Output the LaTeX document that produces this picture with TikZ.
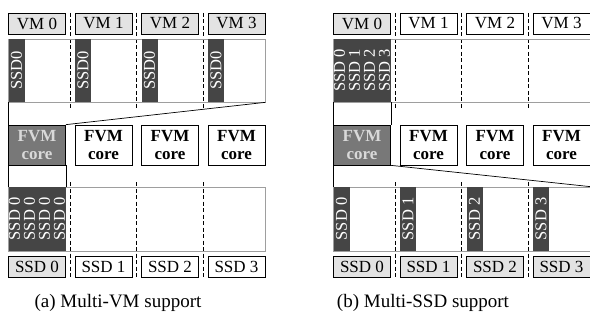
\documentclass[tikz,border=0pt]{standalone}
\usepackage{fontspec}
\setmainfont{Liberation Serif}
\usetikzlibrary{positioning}
\definecolor{ssdbar}{gray}{0.27}
\definecolor{tag}{gray}{0.89}
\definecolor{corefill}{gray}{0.47}
\definecolor{rim}{gray}{0.62}
\tikzset{
  lbl/.style={draw,line width=0.7pt,minimum width=57pt,minimum height=21pt,inner sep=0pt,font=\fontsize{17}{17}\selectfont},
  busy/.style={fill=tag},
  plain/.style={},
  corebox/.style={draw,line width=0.7pt,minimum width=57pt,minimum height=40pt,inner sep=0pt,align=center,font=\bfseries\fontsize{17}{18}\selectfont},
  hot/.style={fill=corefill,text=white!85!black},
  region/.style={draw=rim,line width=0.7pt,minimum width=256.5pt,inner sep=0pt},
  bar/.style={fill=ssdbar,text=white,rotate=90,inner sep=0pt,align=center,font=\fontsize{16.5}{15}\selectfont},
  sep/.style={dash pattern=on 4pt off 2.5pt,line width=0.9pt},
  funnel/.style={line width=0.7pt},
}
\begin{document}
\begin{tikzpicture}[x=1pt,y=-1pt]
\useasboundingbox (0,0) rectangle (590,321);

% (a) four VMs on one SSD
\foreach \x in {70.25,136.75,203.25}{
  \draw[sep] (\x,13)--(\x,108);
  \draw[sep] (\x,182)--(\x,277);
}
\node[region,minimum height=63pt] (topa) at (136.75,70.5) {};
\node[region,minimum height=64pt] (bota) at (136.75,219) {};
\foreach \i/\cs/\ss in {0/hot/busy,1/plain/plain,2/plain/plain,3/plain/plain}{
  \node[lbl,busy] (va\i) at (37+66.5*\i,23.5) {VM \i};
  \node[bar,minimum width=63pt,minimum height=16pt] (ba\i) at (16.5+66.5*\i,70.5) {SSD0};
  \node[corebox,\cs] (ca\i) at (37+66.5*\i,145) {FVM\\core};
  \node[lbl,\ss] (sa\i) at (37+66.5*\i,267) {SSD \i};
}
\node[bar,minimum width=64pt,minimum height=57pt] (fulla) at (37,219) {SSD 0\\SSD 0\\SSD 0\\SSD 0};
\draw[funnel] (topa.south east)--(ca0.north east);
\draw[funnel] (topa.south west)--(ca0.north west);
\draw[funnel] (ca0.south west)--(bota.north west);
\draw[funnel] (ca0.south east)--(ca0.south east |- bota.north);
\node[font=\fontsize{19}{21}\selectfont] (capa) at (118,303) {(a) Multi-VM support};

% (b) one VM over four SSDs
\begin{scope}[xshift=325pt]
\foreach \x in {70.25,136.75,203.25}{
  \draw[sep] (\x,13)--(\x,108);
  \draw[sep] (\x,182)--(\x,277);
}
\node[region,minimum height=63pt] (topb) at (136.75,70.5) {};
\node[region,minimum height=64pt] (botb) at (136.75,219) {};
\node[bar,minimum width=63pt,minimum height=57pt] (fullb) at (37,70.5) {SSD 0\\SSD 1\\SSD 2\\SSD 3};
\foreach \i/\vs/\cs in {0/busy/hot,1/plain/plain,2/plain/plain,3/plain/plain}{
  \node[lbl,\vs] (vb\i) at (37+66.5*\i,23.5) {VM \i};
  \node[corebox,\cs] (cb\i) at (37+66.5*\i,145) {FVM\\core};
  \node[bar,minimum width=64pt,minimum height=16pt] (bb\i) at (16.5+66.5*\i,219) {SSD \i};
  \node[lbl,busy] (sb\i) at (37+66.5*\i,267) {SSD \i};
}
\draw[funnel] (topb.south west)--(cb0.north west);
\draw[funnel] (cb0.north east |- topb.south)--(cb0.north east);
\draw[funnel] (cb0.south east)--(botb.north east);
\draw[funnel] (cb0.south west)--(botb.north west);
\end{scope}
\node[font=\fontsize{19}{21}\selectfont] (capb) at (423,303) {(b) Multi-SSD support};
\end{tikzpicture}
\end{document}
